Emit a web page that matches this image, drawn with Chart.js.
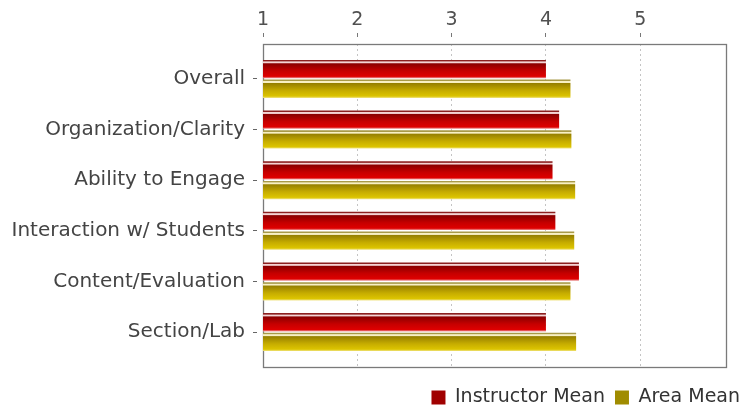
<!DOCTYPE html>
<html>
<head>
<meta charset="utf-8">
<script src="https://cdn.jsdelivr.net/npm/chart.js@4"></script>
<style>
  html, body { margin: 0; padding: 0; background: #fff; }
  #wrap { width: 742px; height: 412px; }
</style>
</head>
<body>
<div id="wrap"><canvas id="meanChart" width="742" height="412"></canvas></div>
<script>
const categories = [
    'Overall',
    'Organization/Clarity',
    'Ability to Engage',
    'Interaction w/ Students',
    'Content/Evaluation',
    'Section/Lab'
];
const instructorMean = [4.00, 4.14, 4.07, 4.10, 4.35, 4.00];
const areaMean = [4.26, 4.27, 4.31, 4.30, 4.26, 4.32];
const axisMin = 1;
const axisMax = 5.92;

const FONT = 'DejaVu Sans';
const legendColors = ['#a00000', '#a08c00'];

// shaded bar, a bit like the old java charts
function barFill(base, stops) {
    return function (context) {
        const el = context.element;
        if (!el || el.y === undefined || !el.height) return base;
        const g = context.chart.ctx.createLinearGradient(0, el.y - el.height / 2, 0, el.y + el.height / 2);
        stops.forEach(s => g.addColorStop(s[0], s[1]));
        return g;
    };
}

const redStops = [
    [0, '#8c2020'], [0.07, '#8c2020'], [0.1, '#f4d4d4'], [0.16, '#f4d4d4'],
    [0.21, '#8a0000'], [0.6, '#c60000'], [0.9, '#de0000'], [1, '#ec9c9c']
];
const yellowStops = [
    [0, '#a89a48'], [0.07, '#a89a48'], [0.1, '#f8f0c4'], [0.16, '#f8f0c4'],
    [0.21, '#968000'], [0.6, '#c6ac00'], [0.9, '#dcc400'], [1, '#f0e488']
];

// grey box round the plot
const frame = {
    id: 'frame',
    beforeDatasetsDraw(chart) {
        const a = chart.chartArea;
        const ctx = chart.ctx;
        ctx.save();
        ctx.strokeStyle = '#7a7a7a';
        ctx.lineWidth = 1.3;
        ctx.strokeRect(Math.round(a.left) + 0.5, Math.round(a.top) + 0.5,
            Math.round(a.right - a.left) - 1, Math.round(a.bottom - a.top));
        ctx.restore();
    }
};

const ctx = document.getElementById('meanChart').getContext('2d');
const meanChart = new Chart(ctx, {
    type: 'bar',
    data: {
        labels: categories,
        datasets: [{
            label: 'Instructor Mean',
            data: instructorMean,
            backgroundColor: barFill(legendColors[0], redStops),
            borderWidth: 0,
            categoryPercentage: 0.78,
            barPercentage: 0.93
        }, {
            label: 'Area Mean',
            data: areaMean,
            backgroundColor: barFill(legendColors[1], yellowStops),
            borderWidth: 0,
            categoryPercentage: 0.78,
            barPercentage: 0.93
        }]
    },
    options: {
        indexAxis: 'y',
        responsive: false,
        animation: false,
        layout: {
            padding: { left: 0, right: -8, top: 0, bottom: -5 }
        },
        scales: {
            x: {
                position: 'top',
                min: axisMin,
                max: axisMax,
                ticks: {
                    stepSize: 1,
                    includeBounds: false,
                    color: '#505050',
                    padding: 2,
                    font: { family: FONT, size: 19 }
                },
                grid: {
                    color: '#c4c4c4',
                    tickColor: '#777',
                    tickLength: 11,
                    tickBorderDash: [4, 7]
                },
                border: { display: false, dash: [2, 3] },
                afterFit: function (scale) { scale.height = 44; }
            },
            xBottom: {
                type: 'linear',
                position: 'bottom',
                display: true,
                ticks: { display: false },
                grid: { display: false },
                border: { display: false },
                afterFit: function (scale) { scale.height = 11; }
            },
            y: {
                ticks: {
                    color: '#444',
                    padding: 8,
                    font: { family: FONT, size: 20 }
                },
                grid: {
                    offset: false,
                    drawOnChartArea: false,
                    tickColor: '#666',
                    tickLength: 10,
                    tickBorderDash: [4, 6]
                },
                border: { display: false },
                afterFit: function (scale) { scale.width = 263; },
                afterBuildTicks: function (scale) {
                    // a little extra room above the first and below the last category
                    scale._startValue -= 0.19;
                    scale._valueRange += 0.38;
                }
            },
            yRight: {
                type: 'category',
                position: 'right',
                display: true,
                ticks: { display: false },
                grid: { display: false },
                border: { display: false },
                afterFit: function (scale) { scale.width = 23; }
            }
        },
        plugins: {
            legend: {
                position: 'bottom',
                align: 'end',
                labels: {
                    boxWidth: 14,
                    boxHeight: 14,
                    padding: 10,
                    color: '#333',
                    font: { family: FONT, size: 19 },
                    generateLabels: function (chart) {
                        const items = Chart.defaults.plugins.legend.labels.generateLabels(chart);
                        items.forEach((item, i) => {
                            item.fillStyle = legendColors[i];
                            item.strokeStyle = legendColors[i];
                            item.lineWidth = 0;
                        });
                        return items;
                    }
                }
            },
            tooltip: { enabled: false }
        }
    },
    plugins: [frame]
});

// second pass so the bar shading can use the laid out bars
meanChart.update();
</script>
</body>
</html>
